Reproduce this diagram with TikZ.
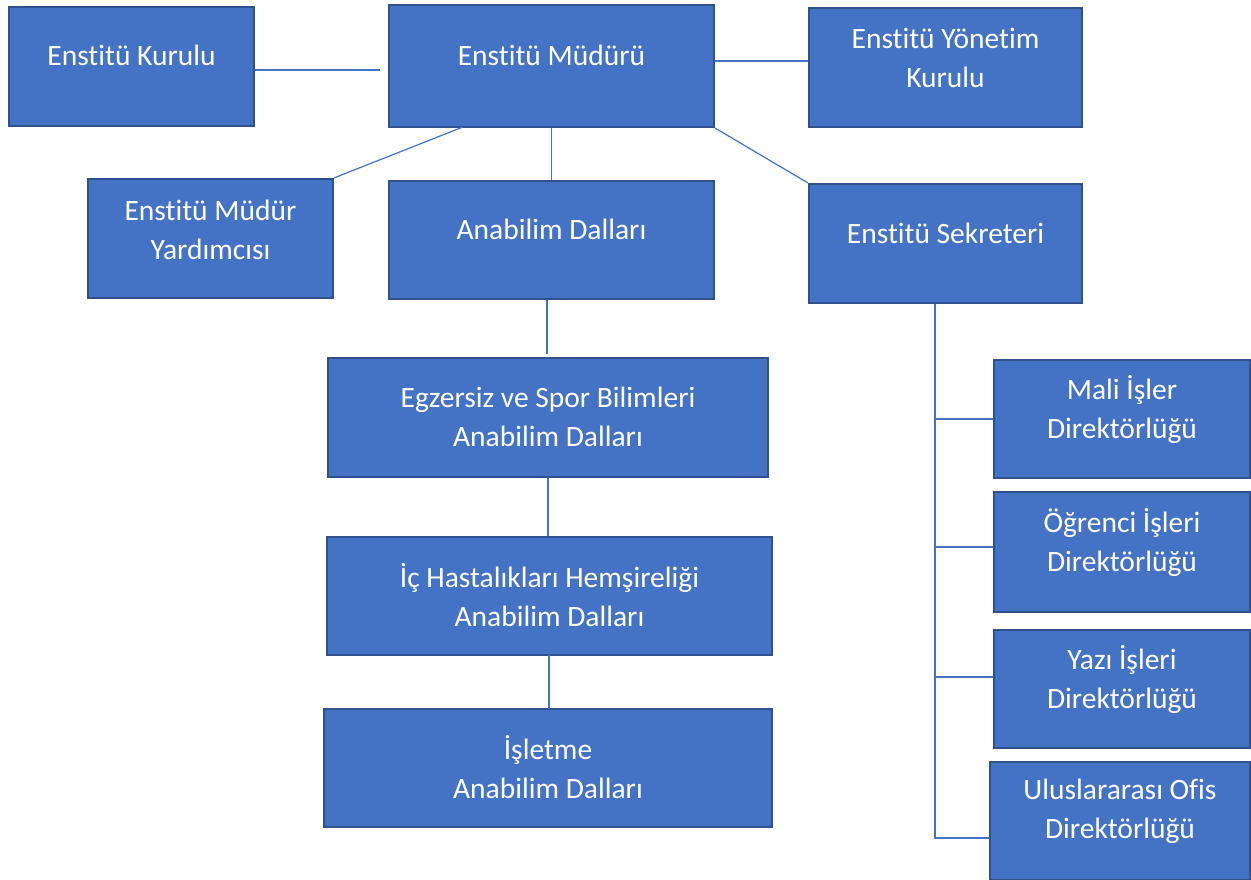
\documentclass[tikz,border=0pt]{standalone}
\usepackage{fontspec}
\setmainfont{Carlito}[Ligatures={NoCommon,NoContextual}]
\definecolor{boxfill}{HTML}{4472C4}
\definecolor{boxline}{HTML}{2F528F}
\definecolor{conn}{HTML}{4472C4}
\tikzset{
  orgbox/.style={draw=boxline, fill=boxfill, line width=2.2pt, inner sep=0pt},
  orgtxt/.style={text=white, align=center, inner sep=0pt, font=\fontsize{29.5}{39}\selectfont},
  link/.style={draw=conn, line width=1.2pt}
}
\newcommand{\obox}[7]{%
  \node[orgbox, minimum width={(#4-#2)*1pt}, minimum height={(#5-#3)*1pt}] (#1) at ({(#2+#4)/2},{(#3+#5)/2}) {};
  \node[orgtxt] (#1t) at ({(#2+#4)/2},#6) {#7};
}
\begin{document}
\begin{tikzpicture}[x=1pt,y=-1pt]
\useasboundingbox (0,0) rectangle (1251,880);
\obox{kur}{9}{7}{254}{126}{55}{Enstitü Kurulu}
\obox{mud}{389}{5}{714}{127}{55}{Enstitü Müdürü}
\obox{yon}{809}{8}{1082}{127}{57.5}{Enstitü Yönetim\\Kurulu}
\obox{yar}{88}{179}{333}{298}{229.5}{Enstitü Müdür\\Yardımcısı}
\obox{ana}{389}{181}{714}{299}{229}{Anabilim Dalları}
\obox{sek}{809}{184}{1082}{303}{233}{Enstitü Sekreteri}
\obox{egz}{328}{358}{768}{477}{416.5}{Egzersiz ve Spor Bilimleri\\Anabilim Dalları}
\obox{ich}{327}{537}{772}{655}{595.5}{İç Hastalıkları Hemşireliği\\Anabilim Dalları}
\obox{isl}{324}{709}{772}{827}{767.5}{İşletme\\Anabilim Dalları}
\obox{mal}{994}{360}{1250}{478}{409.5}{Mali İşler\\Direktörlüğü}
\obox{ogr}{994}{492}{1250}{612}{542.5}{Öğrenci İşleri\\Direktörlüğü}
\obox{yaz}{994}{630}{1250}{748}{679.5}{Yazı İşleri\\Direktörlüğü}
\obox{ulu}{990}{762}{1250}{880}{811}{Uluslararası Ofis\\Direktörlüğü}
% connectors
\coordinate (kurend) at (380,70);
\draw[link] (kur.east |- kurend) -- (kurend);
\draw[link] (mud.east |- 0,61) -- (yon.west |- 0,61);
\draw[link] (463,127) -- (yar.north east);
\draw[link] (mud.south) -- (ana.north);
\draw[link] (mud.south east) -- (sek.north west);
\coordinate (anaend) at (547,354);
\draw[link] (anaend |- ana.south) -- (anaend);
\draw[link] (egz.south) -- (egz.south |- ich.north);
\draw[link] (549,655) -- (549,709);
\coordinate (trunk) at (935,838);
\draw[link] (trunk |- sek.south) -- (trunk) -- (ulu.west |- trunk);
\draw[link] (935,419) -- (mal.west |- 0,419);
\draw[link] (935,547) -- (ogr.west |- 0,547);
\draw[link] (935,677) -- (yaz.west |- 0,677);
\end{tikzpicture}
\end{document}
